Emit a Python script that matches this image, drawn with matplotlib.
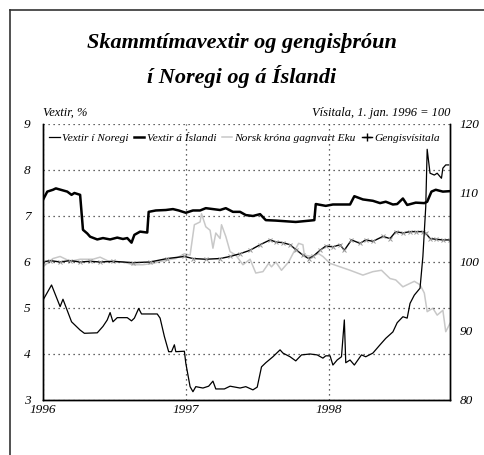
import matplotlib
matplotlib.use("Agg")
import matplotlib.pyplot as plt
from matplotlib.lines import Line2D

plt.rcParams['font.family'] = ['Liberation Serif', 'DejaVu Serif']
plt.rcParams['font.style'] = 'italic'

# Vextir i Noregi (%), left axis
nor_t = [1996.00, 1996.06, 1996.12, 1996.14, 1996.20, 1996.26, 1996.29, 1996.38, 1996.42,
         1996.45, 1996.47, 1996.49, 1996.52, 1996.59, 1996.62, 1996.64, 1996.67, 1996.69,
         1996.80, 1996.82, 1996.85, 1996.88, 1996.90, 1996.92, 1996.93, 1996.99, 1997.00,
         1997.03, 1997.05, 1997.07, 1997.12, 1997.16, 1997.19, 1997.21, 1997.27, 1997.31,
         1997.38, 1997.42, 1997.47, 1997.50, 1997.53, 1997.56, 1997.61, 1997.66, 1997.68,
         1997.73, 1997.77, 1997.81, 1997.87, 1997.92, 1997.96, 1997.98, 1998.01, 1998.03,
         1998.06, 1998.09, 1998.11, 1998.12, 1998.15, 1998.18, 1998.23, 1998.26, 1998.31,
         1998.36, 1998.40, 1998.45, 1998.48, 1998.52, 1998.55, 1998.57, 1998.60, 1998.64,
         1998.66, 1998.68, 1998.69, 1998.71, 1998.74, 1998.76, 1998.79, 1998.80, 1998.82,
         1998.84]
nor_v = [5.17, 5.50, 5.03, 5.19, 4.70, 4.52, 4.45, 4.46, 4.60,
         4.74, 4.90, 4.70, 4.79, 4.79, 4.72, 4.78, 4.99, 4.87,
         4.87, 4.78, 4.38, 4.05, 4.05, 4.20, 4.05, 4.06, 3.80,
         3.29, 3.18, 3.29, 3.26, 3.30, 3.41, 3.24, 3.24, 3.30,
         3.26, 3.29, 3.22, 3.28, 3.72, 3.81, 3.94, 4.09, 4.02,
         3.94, 3.85, 3.98, 4.00, 3.98, 3.91, 3.96, 3.96, 3.76,
         3.87, 3.94, 4.74, 3.81, 3.87, 3.76, 3.98, 3.94, 4.02,
         4.20, 4.34, 4.48, 4.68, 4.81, 4.78, 5.10, 5.28, 5.43,
         6.12, 7.20, 8.45, 7.93, 7.89, 7.93, 7.82, 8.04, 8.11,
         8.11]

# Vextir a Islandi (%), left axis
isl_t = [1996.00, 1996.03, 1996.07, 1996.09, 1996.17, 1996.20, 1996.22, 1996.26, 1996.28,
         1996.31, 1996.33, 1996.38, 1996.42, 1996.47, 1996.52, 1996.56, 1996.59, 1996.62,
         1996.64, 1996.68, 1996.73, 1996.74, 1996.79, 1996.86, 1996.91, 1996.95, 1997.00,
         1997.05, 1997.10, 1997.14, 1997.19, 1997.24, 1997.28, 1997.33, 1997.38, 1997.42,
         1997.47, 1997.52, 1997.56, 1997.63, 1997.77, 1997.87, 1997.90, 1997.91, 1997.98,
         1998.03, 1998.15, 1998.18, 1998.24, 1998.31, 1998.36, 1998.40, 1998.45, 1998.48,
         1998.52, 1998.55, 1998.61, 1998.67, 1998.69, 1998.72, 1998.75, 1998.80, 1998.85]
isl_v = [7.35, 7.53, 7.57, 7.60, 7.53, 7.46, 7.50, 7.46, 6.70,
         6.62, 6.55, 6.49, 6.52, 6.49, 6.53, 6.50, 6.52, 6.42,
         6.59, 6.66, 6.64, 7.09, 7.12, 7.13, 7.15, 7.12, 7.07,
         7.12, 7.12, 7.17, 7.15, 7.13, 7.17, 7.09, 7.09, 7.02,
         7.00, 7.04, 6.91, 6.90, 6.87, 6.90, 6.91, 7.26, 7.22,
         7.25, 7.25, 7.43, 7.36, 7.33, 7.28, 7.31, 7.25, 7.26,
         7.38, 7.24, 7.29, 7.28, 7.31, 7.53, 7.57, 7.53, 7.54]

# Norsk krona gagnvart Eku (index), right axis
eku_t = [1996.00, 1996.07, 1996.12, 1996.19, 1996.26, 1996.35, 1996.40, 1996.47, 1996.56,
         1996.63, 1996.70, 1996.77, 1996.87, 1996.93, 1996.99, 1997.03, 1997.06, 1997.10,
         1997.11, 1997.14, 1997.17, 1997.19, 1997.21, 1997.24, 1997.25, 1997.28, 1997.31,
         1997.35, 1997.40, 1997.45, 1997.49, 1997.54, 1997.58, 1997.60, 1997.63, 1997.67,
         1997.72, 1997.75, 1997.79, 1997.82, 1997.83, 1997.88, 1997.93, 1997.96, 1998.01,
         1998.08, 1998.15, 1998.24, 1998.31, 1998.37, 1998.43, 1998.47, 1998.52, 1998.55,
         1998.60, 1998.64, 1998.67, 1998.69, 1998.73, 1998.76, 1998.80, 1998.82, 1998.85]
eku_v = [99.3, 100.5, 100.8, 100.1, 100.4, 100.4, 100.7, 100.0, 100.0,
         99.6, 99.6, 99.8, 100.3, 100.5, 101.2, 101.0, 105.4, 105.8,
         107.0, 105.1, 104.6, 102.0, 104.2, 103.4, 105.4, 103.7, 101.5,
         101.0, 99.6, 100.4, 98.4, 98.6, 99.8, 99.3, 100.0, 98.8,
         100.0, 101.2, 102.7, 102.5, 101.0, 100.8, 101.2, 100.8, 99.8,
         99.3, 98.8, 98.1, 98.6, 98.8, 97.6, 97.4, 96.4, 96.7,
         97.2, 96.7, 95.5, 92.8, 93.3, 92.3, 93.0, 89.9, 91.1]

# Gengisvisitala (index), right axis
gen_t = [1996.00, 1996.05, 1996.12, 1996.19, 1996.26, 1996.33, 1996.40, 1996.49, 1996.63,
         1996.75, 1996.87, 1996.99, 1997.05, 1997.14, 1997.24, 1997.31, 1997.38, 1997.45,
         1997.52, 1997.59, 1997.63, 1997.68, 1997.73, 1997.77, 1997.82, 1997.86, 1997.89,
         1997.94, 1997.98, 1998.03, 1998.08, 1998.11, 1998.16, 1998.22, 1998.26, 1998.31,
         1998.38, 1998.43, 1998.47, 1998.52, 1998.57, 1998.61, 1998.66, 1998.68, 1998.71,
         1998.75, 1998.80, 1998.85]
gen_v = [100.0, 100.2, 100.0, 100.2, 100.0, 100.1, 100.0, 100.1, 99.9,
         100.0, 100.5, 100.8, 100.5, 100.4, 100.5, 100.8, 101.2, 101.7,
         102.5, 103.2, 102.9, 102.8, 102.5, 101.8, 101.0, 100.5, 100.8,
         101.7, 102.3, 102.2, 102.5, 101.7, 103.2, 102.7, 103.2, 103.0,
         103.7, 103.4, 104.4, 104.2, 104.4, 104.4, 104.4, 104.2, 103.4,
         103.3, 103.2, 103.2]

year_ticks = [1996, 1997, 1998]
left_ticks = [3, 4, 5, 6, 7, 8, 9]
right_ticks = [80, 90, 100, 110, 120]

fig = plt.figure(figsize=(4.84, 4.55), dpi=100)
ax = fig.add_axes([0.0888, 0.1209, 0.841, 0.6066])
ax2 = ax.twinx()

ax.set_xlim(1996.0, 1998.85)
ax.set_ylim(3, 9)
ax2.set_ylim(80, 120)

ax.set_xticks(year_ticks)
ax.set_xticklabels([str(y) for y in year_ticks])
ax.set_yticks(left_ticks)
ax2.set_yticks(right_ticks)
ax.tick_params(axis='both', length=0, labelsize=9.5)
ax.tick_params(axis='y', pad=9)
ax.tick_params(axis='x', pad=3)
ax2.tick_params(axis='y', length=0, labelsize=9.5, pad=7)

ax.grid(True, linestyle=(0, (1, 3)), color='#333333', linewidth=0.9)
for a in (ax, ax2):
    a.spines['top'].set_visible(False)
    for s in ('left', 'right', 'bottom'):
        a.spines[s].set_linewidth(1.0)

# index series on the right scale
l_eku, = ax2.plot(eku_t, eku_v, color='#c8c8c8', linewidth=1.1)
ax2.plot(gen_t, gen_v, color='black', linewidth=1.0, marker='x',
         markersize=3, markeredgecolor='#999999', markeredgewidth=0.7)

# interest rates on the left scale, drawn above the index series
l_nor, = ax.plot(nor_t, nor_v, color='black', linewidth=0.9)
l_isl, = ax.plot(isl_t, isl_v, color='black', linewidth=1.8)
ax.set_zorder(ax2.get_zorder() + 1)
ax.patch.set_visible(False)

h_gen = Line2D([], [], color='black', linewidth=1.0, marker='+', markersize=6)
ax.legend([l_nor, l_isl, l_eku, h_gen],
          ['Vextir í Noregi', 'Vextir á Íslandi', 'Norsk króna gagnvart Eku', 'Gengisvísitala'],
          loc='upper left', bbox_to_anchor=(-0.005, 1.0), ncol=4, frameon=False,
          fontsize=8.2, handlelength=0.9, handletextpad=0.2, columnspacing=0.5,
          borderaxespad=0.35)

fig.text(0.5, 0.905, 'Skammtímavextir og gengisþróun', ha='center', va='center',
         fontsize=16, fontweight='bold', style='italic')
fig.text(0.5, 0.832, 'í Noregi og á Íslandi', ha='center', va='center',
         fontsize=16, fontweight='bold', style='italic')
fig.text(0.0888, 0.752, 'Vextir, %', ha='left', va='center', fontsize=9)
fig.text(0.93, 0.752, 'Vísitala, 1. jan. 1996 = 100', ha='right', va='center', fontsize=9)

# outer frame (only left and top edges visible)
fig.add_artist(Line2D([0.021, 0.021], [0.0, 0.978], color='#333333', linewidth=1.2))
fig.add_artist(Line2D([0.021, 1.0], [0.978, 0.978], color='#333333', linewidth=1.2))

fig.savefig('out.png', dpi=100)
